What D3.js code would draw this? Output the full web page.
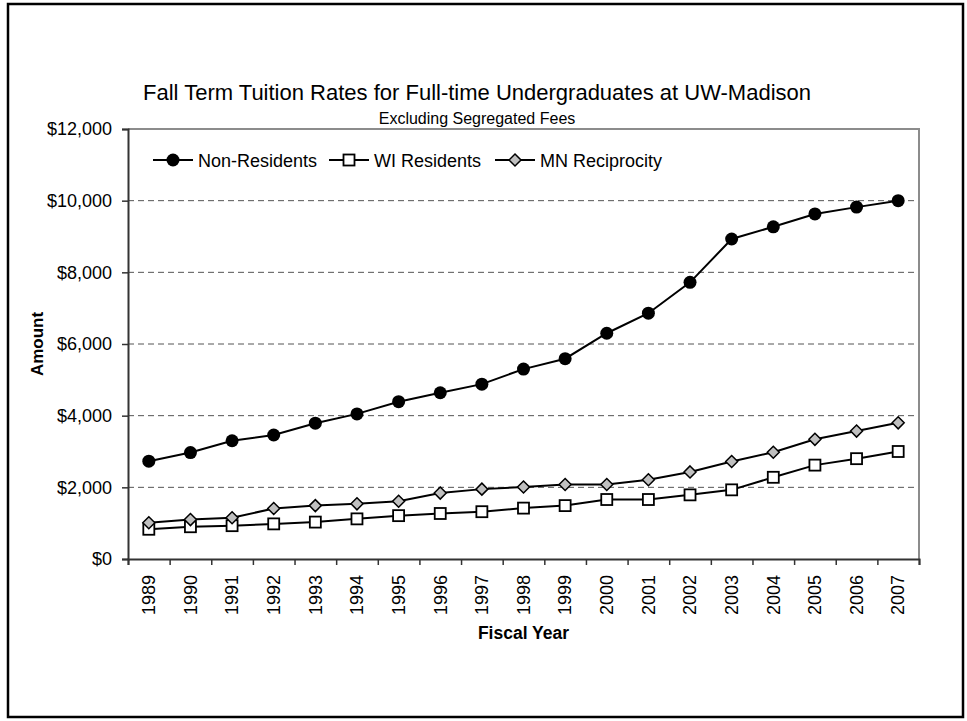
<!DOCTYPE html>
<html>
<head>
<meta charset="utf-8">
<script src="https://cdnjs.cloudflare.com/ajax/libs/d3/7.8.5/d3.min.js"></script>
<style>
  body { margin: 0; background: #fff; }
  text { font-family: "Liberation Sans", Arial, sans-serif; }
</style>
</head>
<body>
<div id="canvas"></div>
<script>
// data
const years = ["1989","1990","1991","1992","1993","1994","1995","1996","1997","1998",
               "1999","2000","2001","2002","2003","2004","2005","2006","2007"];
const nonResidents = [2730, 2970, 3300, 3460, 3790, 4050, 4390, 4640, 4880, 5300,
                      5590, 6300, 6860, 7720, 8930, 9270, 9630, 9820, 10000];
const wiResidents  = [830, 900, 930, 980, 1030, 1120, 1210, 1270, 1320, 1420,
                      1490, 1660, 1660, 1790, 1930, 2280, 2620, 2800, 3000];
const mnReciprocity = [1010, 1100, 1150, 1410, 1490, 1540, 1610, 1840, 1950, 2010,
                       2080, 2080, 2210, 2430, 2720, 2980, 3340, 3570, 3800];
const yTicks = [0, 2000, 4000, 6000, 8000, 10000, 12000];
const seriesNames = ["Non-Residents", "WI Residents", "MN Reciprocity"];

const width = 967, height = 721;
const margin = { top: 129, left: 128, bottom: 162, right: 48 };
const iwidth = width - margin.left - margin.right;
const iheight = height - margin.top - margin.bottom;

const svg = d3.select("#canvas").append("svg")
  .attr("width", width)
  .attr("height", height);

// outer frame
svg.append("rect")
  .attr("x", 8).attr("y", 4)
  .attr("width", 955).attr("height", 713)
  .attr("fill", "none").attr("stroke", "#000").attr("stroke-width", 2.5);

svg.append("text")
  .attr("x", 477).attr("y", 100)
  .attr("text-anchor", "middle")
  .style("font-size", "22px")
  .text("Fall Term Tuition Rates for Full-time Undergraduates at UW-Madison");

svg.append("text")
  .attr("x", 477).attr("y", 124)
  .attr("text-anchor", "middle")
  .style("font-size", "16px")
  .text("Excluding Segregated Fees");

const g = svg.append("g").attr("transform", `translate(${margin.left},${margin.top})`);

const x = d3.scaleBand().domain(years).range([0, iwidth]).padding(0);
const xb = d3.scaleLinear().domain([0, years.length]).range([0, iwidth]);
const y = d3.scaleLinear().domain([0, 12000]).range([iheight, 0]);

// gridlines
g.append("g")
  .selectAll("line")
  .data(yTicks.filter(d => d > 0 && d < 12000))
  .enter().append("line")
  .attr("x1", 0).attr("x2", iwidth)
  .attr("y1", d => y(d)).attr("y2", d => y(d))
  .attr("stroke", "#555").attr("stroke-width", 1)
  .attr("stroke-dasharray", "6,4");

// plot border top/right
g.append("path")
  .attr("d", `M0,${y(12000)}H${iwidth}V${iheight}`)
  .attr("fill", "none").attr("stroke", "#8c8c8c").attr("stroke-width", 2);

// y axis
const yAxis = g.append("g")
  .call(d3.axisLeft(y).tickValues(yTicks).tickSize(6).tickPadding(10)
    .tickFormat(d3.format("$,")));
yAxis.select(".domain").attr("stroke", "#333").attr("stroke-width", 2);
yAxis.selectAll(".tick line").attr("stroke", "#333").attr("stroke-width", 1.5);
yAxis.selectAll("text").style("font-size", "18px").attr("fill", "#000")
  .style("font-family", "'Liberation Sans', Arial, sans-serif");

// x axis: boundary ticks
const xTickAxis = g.append("g")
  .attr("transform", `translate(0,${iheight})`)
  .call(d3.axisBottom(xb).tickValues(d3.range(years.length + 1)).tickSize(6).tickFormat(""));
xTickAxis.select(".domain").attr("stroke", "#333").attr("stroke-width", 2);
xTickAxis.selectAll(".tick line").attr("stroke", "#333").attr("stroke-width", 1.5);

// x axis: labels rotated
const xAxis = g.append("g")
  .attr("transform", `translate(0,${iheight})`)
  .call(d3.axisBottom(x).tickSize(0));
xAxis.select(".domain").remove();
xAxis.selectAll("text")
  .style("font-size", "18px").attr("fill", "#000")
  .style("font-family", "'Liberation Sans', Arial, sans-serif")
  .attr("text-anchor", "end")
  .attr("x", 0).attr("y", 0)
  .attr("dy", "0.35em")
  .attr("transform", "translate(0,16) rotate(-90)");

// axis titles
svg.append("text")
  .attr("transform", `translate(43,${margin.top + iheight / 2}) rotate(-90)`)
  .attr("text-anchor", "middle")
  .style("font-size", "17px").style("font-weight", "bold")
  .text("Amount");

svg.append("text")
  .attr("x", margin.left + iwidth / 2).attr("y", 639)
  .attr("text-anchor", "middle")
  .style("font-size", "17.5px").style("font-weight", "bold")
  .text("Fiscal Year");

// series
const line = d3.line().x((d, i) => x(years[i]) + x.bandwidth() / 2).y(d => y(d));
const cx = i => x(years[i]) + x.bandwidth() / 2;

function drawMarker(sel, type) {
  if (type === 0) {
    sel.append("circle").attr("r", 6.5).attr("fill", "#000");
  } else if (type === 1) {
    sel.append("rect").attr("x", -5.5).attr("y", -5.5).attr("width", 11).attr("height", 11)
      .attr("fill", "#fff").attr("stroke", "#000").attr("stroke-width", 1.8);
  } else {
    sel.append("path").attr("d", "M0,-6L6,0L0,6L-6,0Z")
      .attr("fill", "#c0c0c0").attr("stroke", "#000").attr("stroke-width", 1.5);
  }
}

[wiResidents, mnReciprocity, nonResidents].forEach(data => {
  const type = data === nonResidents ? 0 : data === wiResidents ? 1 : 2;
  g.append("path").datum(data)
    .attr("d", line)
    .attr("fill", "none").attr("stroke", "#000").attr("stroke-width", 2);
  g.selectAll(null).data(data).enter().append("g")
    .attr("transform", (d, i) => `translate(${cx(i)},${y(d)})`)
    .each(function () { drawMarker(d3.select(this), type); });
});

// legend
const legendX = [153, 329, 495];
const legend = svg.append("g");
seriesNames.forEach((name, k) => {
  const lg = legend.append("g").attr("transform", `translate(${legendX[k]},160)`);
  lg.append("line").attr("x1", 0).attr("x2", 40).attr("y1", 0).attr("y2", 0)
    .attr("stroke", "#000").attr("stroke-width", 2);
  const m = lg.append("g").attr("transform", "translate(20,0)");
  drawMarker(m, k);
  lg.append("text").attr("x", 45).attr("y", 6.5)
    .style("font-size", "18px")
    .text(name);
});
</script>
</body>
</html>
